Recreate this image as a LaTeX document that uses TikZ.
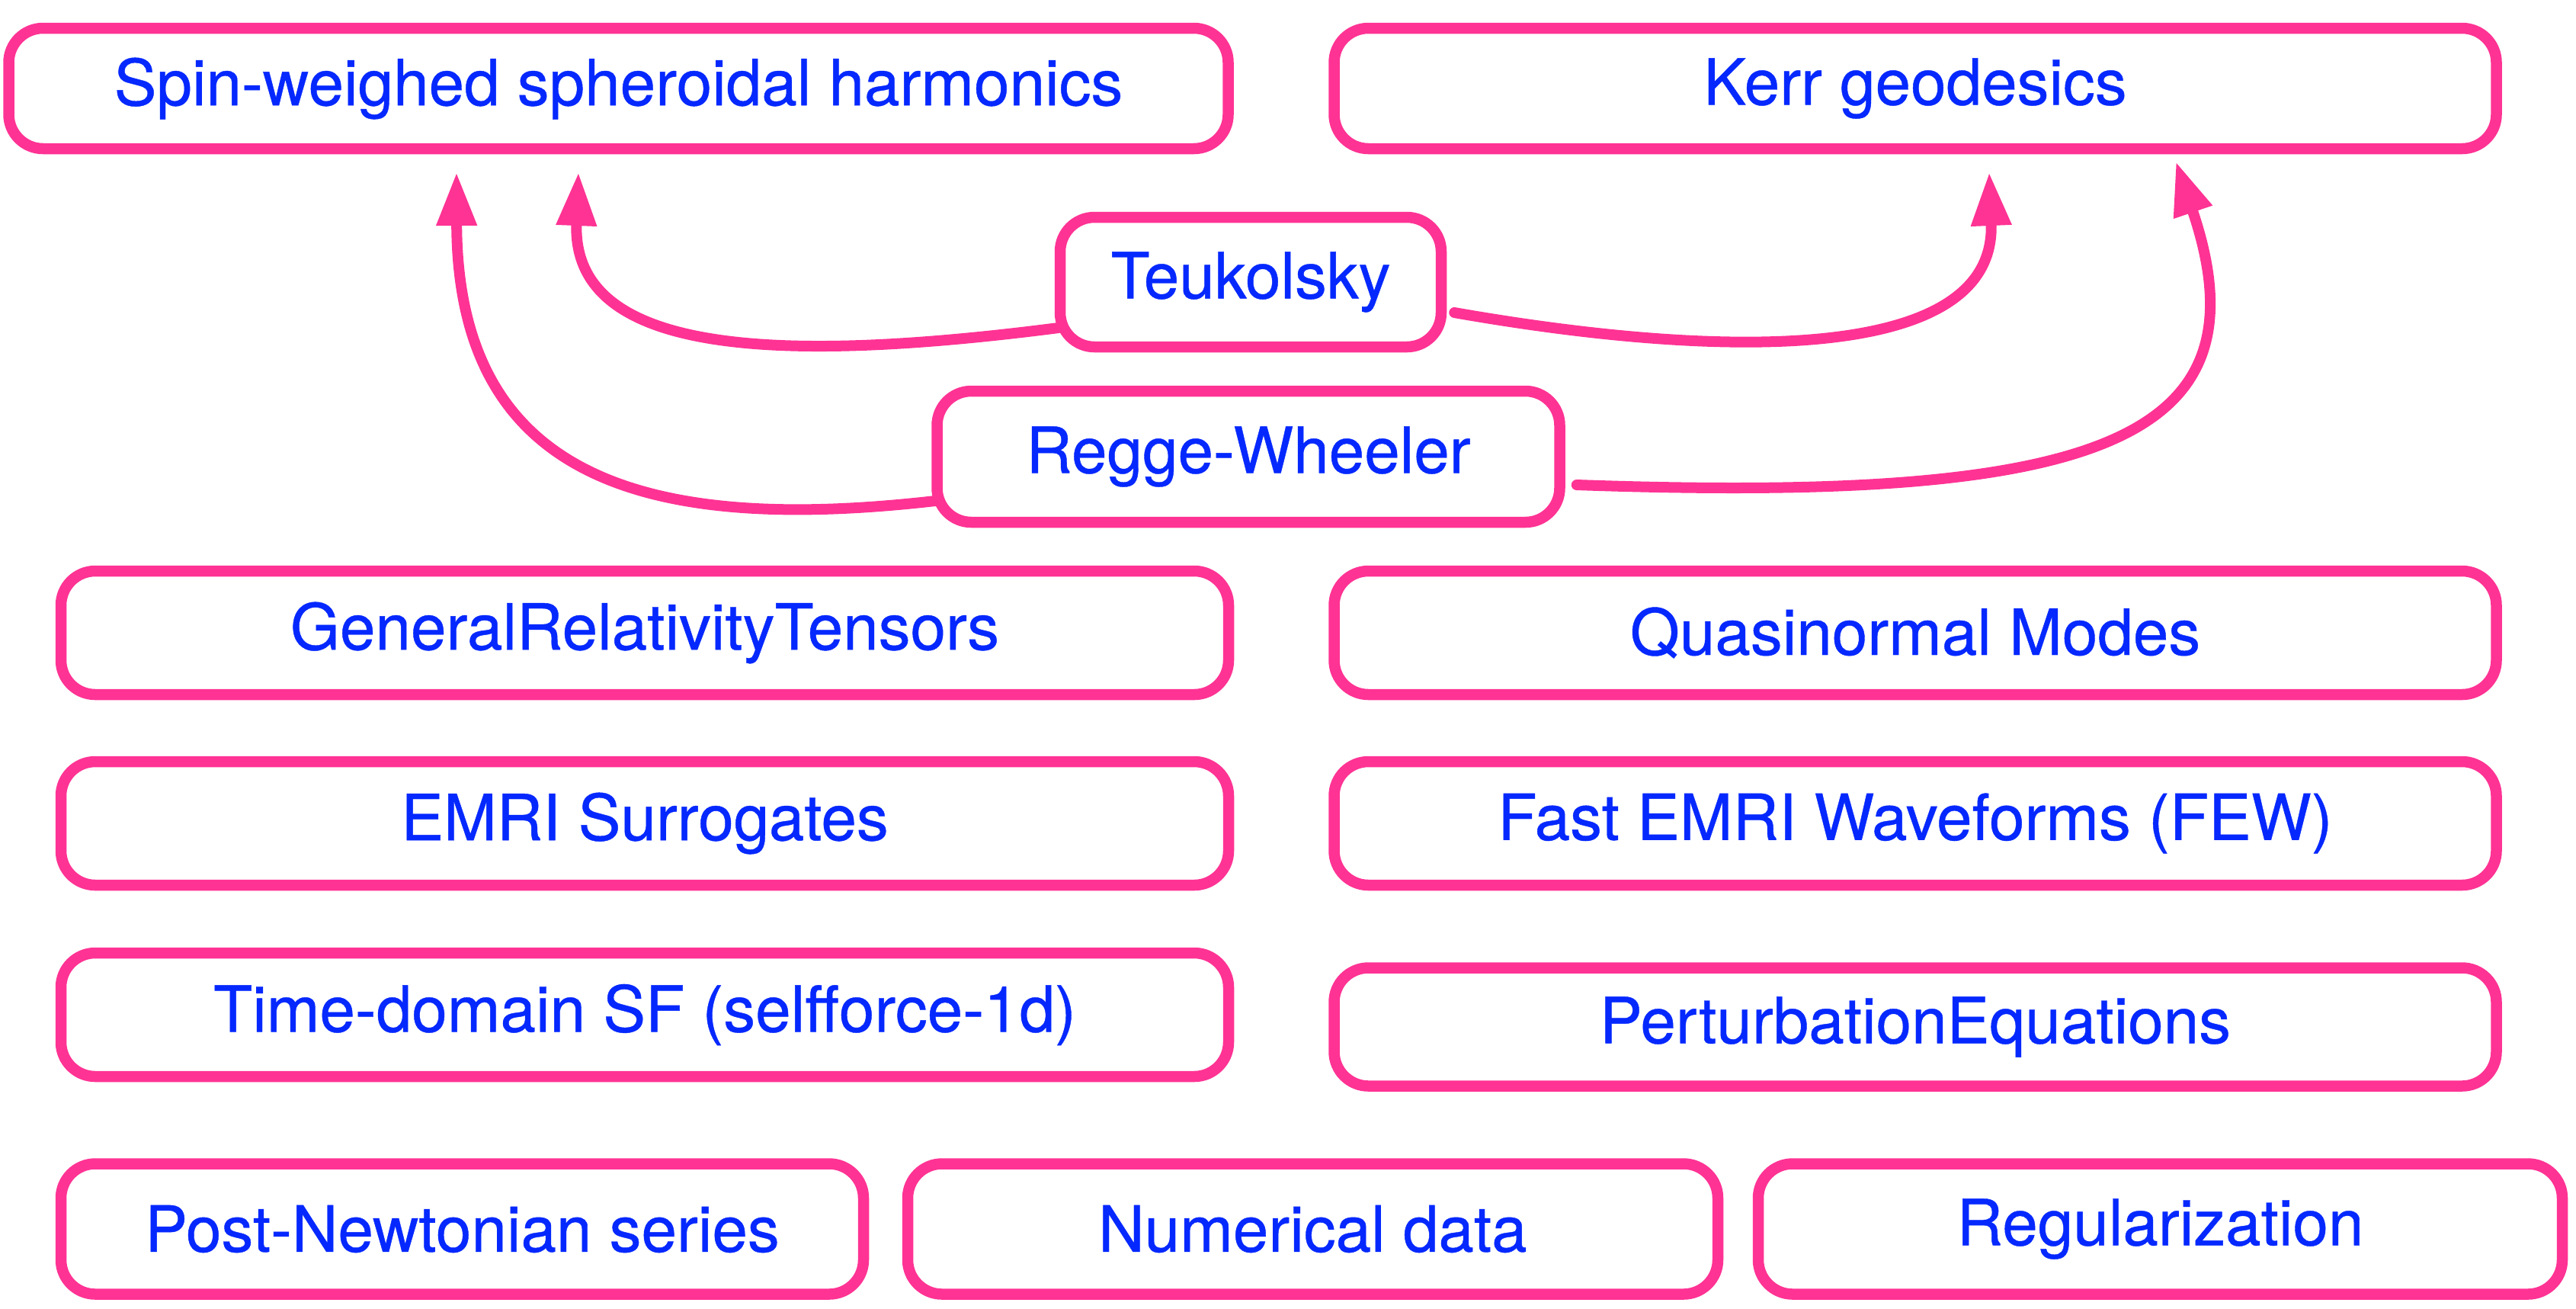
\documentclass[tikz,border=0pt]{standalone}
\usepackage{fontspec}
\setmainfont[FakeBold=0.5]{TeX Gyre Heros}
\usetikzlibrary{arrows.meta}
\definecolor{pk}{RGB}{255,51,148}
\definecolor{bl}{RGB}{5,40,255}
\begin{document}
\begin{tikzpicture}[x=1cm,y=1cm,
  box/.style={draw=pk, line width=1.45mm, rounded corners=0.45cm, fill=white, text=bl,
    font=\fontsize{23.8}{28}\selectfont, inner sep=0pt, align=center},
  link/.style={draw=pk, line width=1.4mm, line cap=round, -{Triangle[length=7mm,width=5mm]}}]
\useasboundingbox (0,0) rectangle (33.8,-17.16);
\node[box, minimum width=16.0cm, minimum height=1.58cm] (spin) at (8.115,-1.16) {Spin-weighed spheroidal harmonics};
\node[box, minimum width=15.25cm, minimum height=1.58cm] (kerr) at (25.13,-1.16) {Kerr geodesics};
\node[box, minimum width=5.0cm, minimum height=1.70cm] (teuk) at (16.41,-3.70) {Teukolsky};
\node[box, minimum width=8.17cm, minimum height=1.72cm] (rw) at (16.38,-5.99) {Regge-Wheeler};
\node[box, minimum width=15.32cm, minimum height=1.62cm] (grt) at (8.46,-8.30) {GeneralRelativityTensors};
\node[box, minimum width=15.25cm, minimum height=1.62cm] (qnm) at (25.13,-8.30) {Quasinormal Modes};
\node[box, minimum width=15.32cm, minimum height=1.62cm] (emri) at (8.46,-10.80) {EMRI Surrogates};
\node[box, minimum width=15.25cm, minimum height=1.62cm] (few) at (25.13,-10.80) {Fast EMRI Waveforms (FEW)};
\node[box, minimum width=15.32cm, minimum height=1.62cm] (td) at (8.46,-13.31) {Time-domain SF (selfforce-1d)};
\node[box, minimum width=15.25cm, minimum height=1.55cm] (pe) at (25.13,-13.47) {PerturbationEquations};
\node[box, minimum width=10.53cm, minimum height=1.71cm] (pn) at (6.065,-16.12) {Post-Newtonian series};
\node[box, minimum width=10.63cm, minimum height=1.71cm] (nd) at (17.225,-16.12) {Numerical data};
\node[box, minimum width=10.55cm, minimum height=1.71cm] (reg) at (28.345,-16.12) {Regularization};
\coordinate (t1) at (7.59,-2.26);
\coordinate (t2) at (5.99,-2.26);
\coordinate (t3) at (26.10,-2.26);
\coordinate (t4) at (28.55,-2.12);
\draw[link] ([xshift=0.05cm,yshift=-0.6cm]teuk.west) .. controls (10.0,-4.8) and (7.5,-4.6) .. (t1);
\draw[link] ([xshift=0.05cm,yshift=-0.58cm]rw.west) .. controls (8.5,-7.0) and (6.0,-6.3) .. (t2);
\draw[link] ([xshift=0.1cm,yshift=-0.4cm]teuk.east) .. controls (22.5,-4.7) and (26.2,-4.8) .. (t3);
\draw[link] ([xshift=0.15cm,yshift=-0.37cm]rw.east) .. controls (27.5,-6.6) and (29.8,-5.8) .. (t4);
\end{tikzpicture}
\end{document}
